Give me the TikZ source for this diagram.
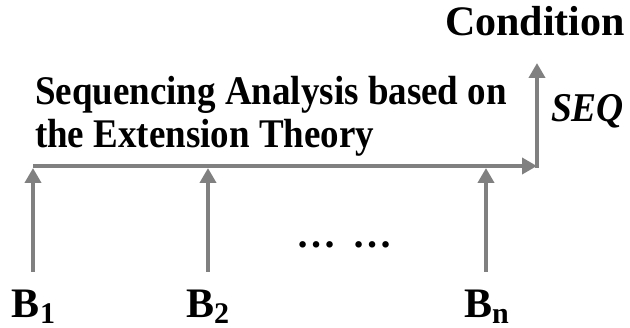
\documentclass[tikz,border=0pt]{standalone}
\usepackage{fontspec}
\usepackage{graphicx}
\setmainfont{Liberation Serif}
\usetikzlibrary{arrows.meta}
\definecolor{arrgray}{RGB}{128,128,128}
\newcommand{\fs}[1]{\fontsize{#1}{#1}\selectfont}
\newcommand{\subsc}[1]{\raisebox{-6pt}[\height][0pt]{\fs{30}#1}}
\begin{document}
\begin{tikzpicture}[x=1pt,y=-1pt,
  conn/.style={draw=arrgray, line width=4pt},
  tipconn/.style={conn, -{Triangle[width=16pt,length=15pt]}},
  lbl/.style={inner sep=0pt, outer sep=0pt, anchor=base west, font=\bfseries}]
\useasboundingbox (0,0) rectangle (630,328);

% coordinates
\coordinate (h0) at (33,166);
\coordinate (hend) at (537,166);
\coordinate (vbot) at (537,168);
\coordinate (vtop) at (537,63);
\coordinate (b1s) at (33,272);
\coordinate (b1t) at (33,168);
\coordinate (b2s) at (208,272);
\coordinate (b2t) at (208,168);
\coordinate (bns) at (486,272);
\coordinate (bnt) at (486,168);

% texts
\node[lbl, font=\bfseries\fs{42}] (cond) at (445,36) {Condition};
\node[lbl, font=\bfseries\fs{37}] (title) at (35,105)
  {\scalebox{1}[1.1]{\fontsize{37}{39}\selectfont\begin{tabular}[t]{@{}l@{}}Sequencing Analysis based on\\the Extension Theory\end{tabular}}};
\node[lbl, font=\bfseries\itshape\fs{37.5}] (seq) at (551,122) {\scalebox{1}[1.09]{SEQ}};
\node[lbl, font=\bfseries\fs{40}] (dots) at (296,248) {…\hspace{0.42em}…};
\node[lbl, font=\bfseries\fs{42}] (B1) at (12,318) {B\subsc{1}};
\node[lbl, font=\bfseries\fs{42}] (B2) at (186,318) {B\subsc{2}};
\node[lbl, font=\bfseries\fs{42}] (Bn) at (464,318) {B\subsc{n}};

% connectors
\draw[tipconn] (h0) -- (hend);
\draw[tipconn] (vbot) -- (vtop);
\draw[tipconn] (b1s) -- (b1t);
\draw[tipconn] (b2s) -- (b2t);
\draw[tipconn] (bns) -- (bnt);
\end{tikzpicture}
\end{document}
